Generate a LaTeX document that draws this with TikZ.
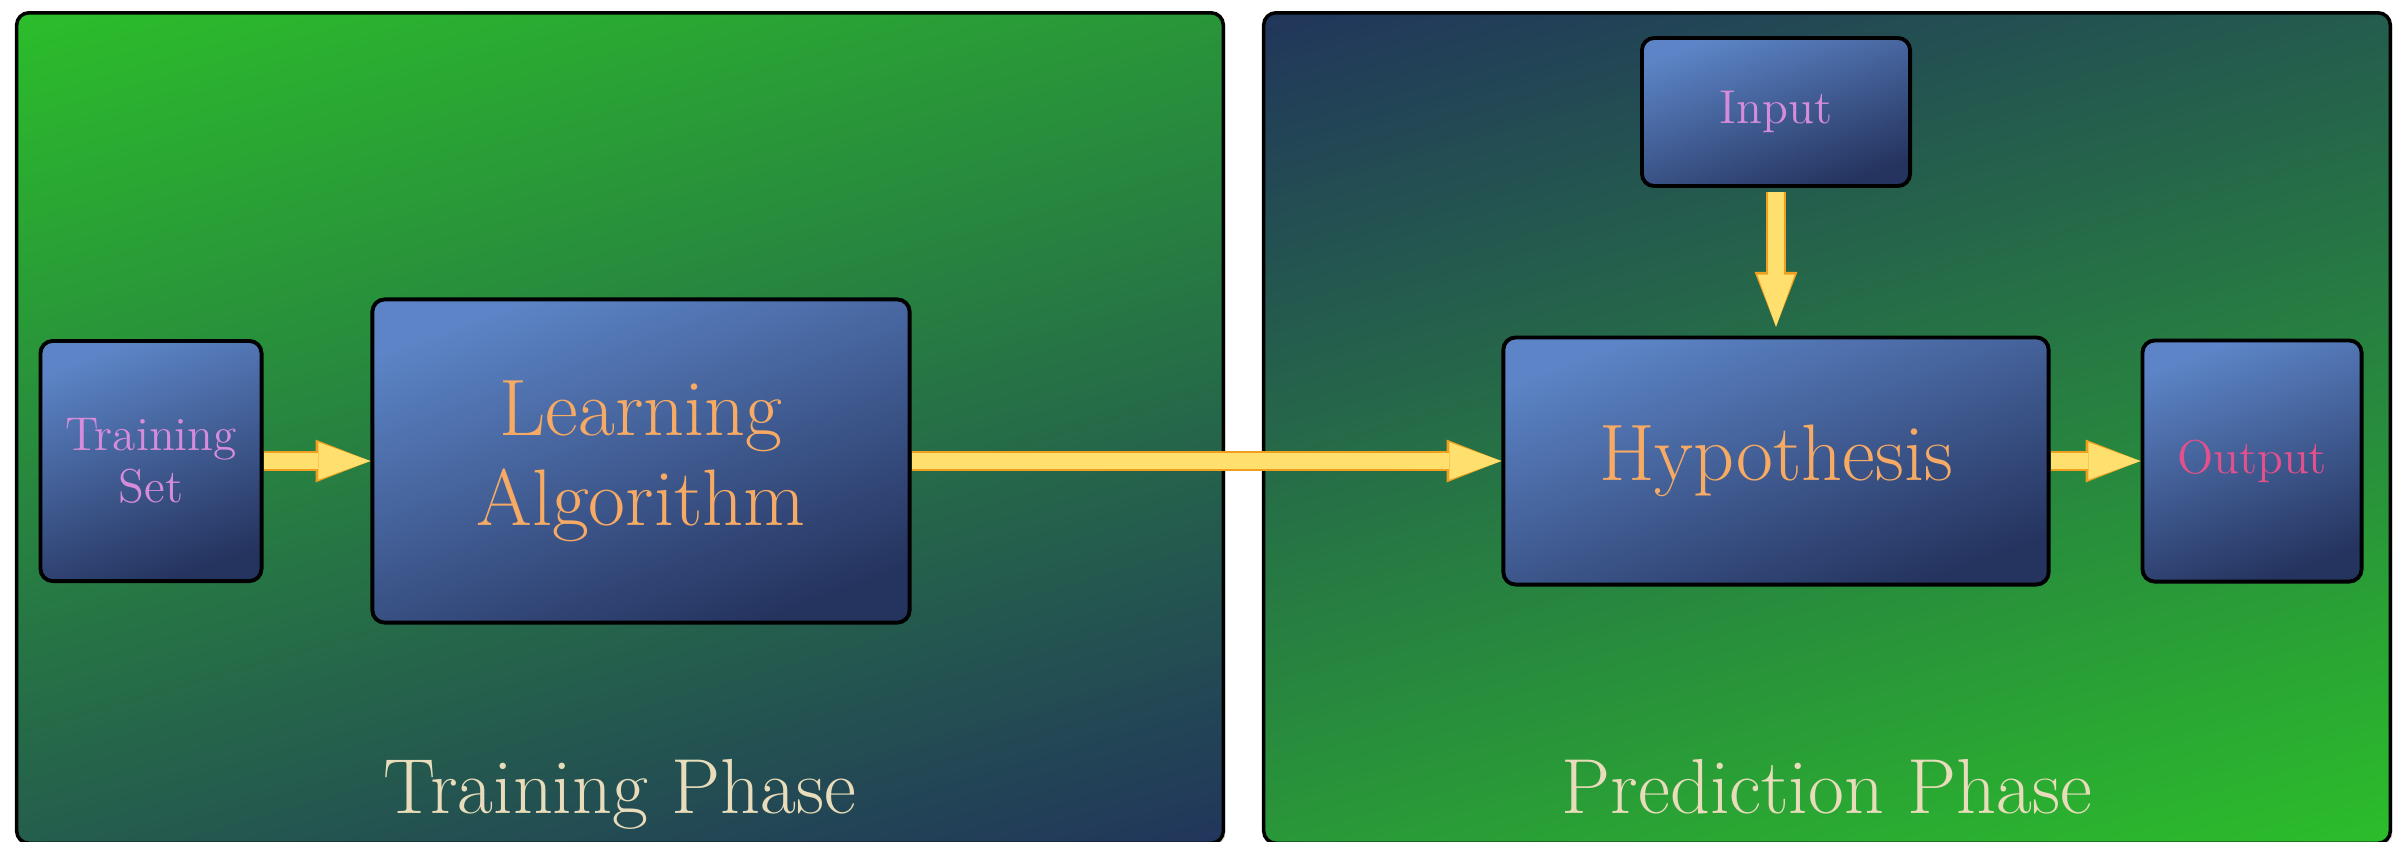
\documentclass[tikz,border=0pt]{standalone}
\usepackage{tikz}
\usetikzlibrary{arrows.meta, shadows}
\definecolor{phgreen}{RGB}{44,192,42}
\definecolor{phnavy}{RGB}{33,51,92}
\definecolor{boxtop}{RGB}{92,132,198}
\definecolor{boxbot}{RGB}{37,52,95}
\definecolor{txtviolet}{RGB}{214,140,218}
\definecolor{txtorange}{RGB}{246,170,100}
\definecolor{txtpink}{RGB}{228,80,140}
\definecolor{txtbeige}{RGB}{232,220,186}
\definecolor{arrfill}{RGB}{255,224,110}
\definecolor{arredge}{RGB}{240,160,30}
\pgfdeclareverticalshading{tgrad}{100bp}{color(0bp)=(phnavy); color(18bp)=(phnavy); color(82bp)=(phgreen); color(100bp)=(phgreen)}
\pgfdeclareverticalshading{pgrad}{100bp}{color(0bp)=(phgreen); color(18bp)=(phgreen); color(82bp)=(phnavy); color(100bp)=(phnavy)}
\tikzset{
    panel/.style={draw=black,line width=1pt,rounded corners=3.5pt,
        drop shadow={shadow xshift=0.6pt,shadow yshift=-0.6pt,fill=black!60,opacity=.25}},
    tpanel/.style={panel,shade,shading=tgrad,shading angle=16},
    ppanel/.style={panel,shade,shading=pgrad,shading angle=16},
    blk/.style={draw=black,line width=1.1pt,rounded corners=3.5pt,top color=boxtop,
        bottom color=boxbot,shading angle=20,align=center,inner sep=0pt},
    smalltxt/.style={font=\fontsize{13.5}{15}\selectfont},
    bigtxt/.style={font=\fontsize{22.8}{25.5}\selectfont,text=txtorange},
    phase/.style={font=\fontsize{22.2}{26}\selectfont,text=txtbeige,anchor=base},
    fatarrow/.style={draw=arrfill,line width=4.4pt,
        -{Triangle[length=14.8pt,width=10.6pt,line width=0pt]},
        preaction={draw=arredge,line width=5.6pt,
            -{Triangle[length=15.6pt,width=12.2pt,line width=0pt]}}},
}
\begin{document}
\begin{tikzpicture}[x=0.01cm,y=-0.01cm]
\useasboundingbox[fill=white] (0,0) rectangle (2405,841);
% the two phases
\node[tpanel,minimum width=12.06cm,minimum height=8.3cm] (tp) at (620,428) {};
\node[ppanel,minimum width=11.26cm,minimum height=8.3cm] (pp) at (1827,428) {};
\node[phase] (tpl) at (620,813) {Training Phase};
\node[phase] (ppl) at (1827,813) {Prediction Phase};
% blocks
\node[blk,smalltxt,text=txtviolet,minimum width=2.21cm,minimum height=2.4cm] (ts) at (151,461) {Training\\Set};
\node[blk,bigtxt,minimum width=5.37cm,minimum height=3.23cm] (la) at (641,461) {Learning\\Algorithm};
\node[blk,smalltxt,text=txtviolet,minimum width=2.68cm,minimum height=1.48cm] (inp) at (1776,112) {Input};
\node[blk,bigtxt,minimum width=5.45cm,minimum height=2.47cm] (hyp) at (1776,461) {Hypothesis};
\node[blk,smalltxt,text=txtpink,minimum width=2.19cm,minimum height=2.41cm] (out) at (2252,461) {Output};
\path
    (ts) edge[fatarrow] (la)
    (la) edge[fatarrow] (hyp)
    (hyp) edge[fatarrow] (out)
    (inp) edge[fatarrow,shorten <=1pt,shorten >=2.5pt] (hyp)
;
\end{tikzpicture}
\end{document}
